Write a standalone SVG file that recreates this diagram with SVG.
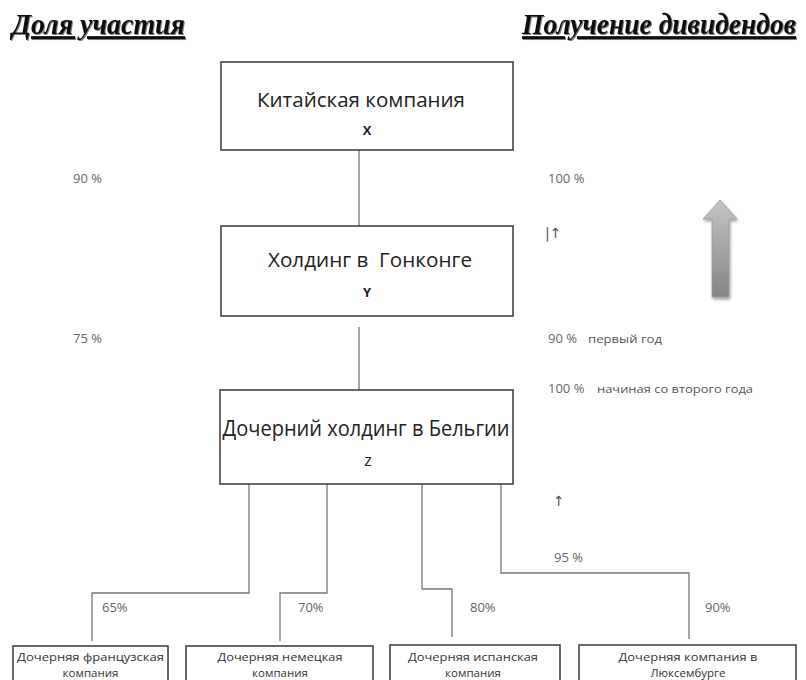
<svg xmlns="http://www.w3.org/2000/svg" width="806" height="680" viewBox="0 0 806 680">
<defs>
<linearGradient id="ag" x1="0" y1="0" x2="0" y2="1">
<stop offset="0" stop-color="#c4c4c4"/>
<stop offset="1" stop-color="#858585"/>
</linearGradient>
<filter id="sh" x="-50%" y="-20%" width="200%" height="140%">
<feGaussianBlur in="SourceAlpha" stdDeviation="1.5"/>
<feOffset dx="1" dy="2" result="b"/>
<feComponentTransfer><feFuncA type="linear" slope="0.4"/></feComponentTransfer>
<feMerge><feMergeNode/><feMergeNode in="SourceGraphic"/></feMerge>
</filter>
<filter id="ts" x="-2%" y="-20%" width="104%" height="140%">
<feOffset in="SourceAlpha" dx="1" dy="1" result="o"/>
<feComponentTransfer in="o"><feFuncA type="linear" slope="0.5"/></feComponentTransfer>
<feMerge><feMergeNode/><feMergeNode in="SourceGraphic"/></feMerge>
</filter>
</defs>
<style>
.box{fill:#fff;stroke:#444;stroke-width:1.6}
.conn{fill:none;stroke:#777;stroke-width:1.3}
.bt{font-family:"Open Sans","Liberation Sans",sans-serif;fill:#222;text-anchor:middle}
.lbl{font-family:"Open Sans","Liberation Sans",sans-serif;fill:#666;font-size:13px}
.sm{font-family:"Open Sans","Liberation Sans",sans-serif;fill:#555;font-size:11.5px}
.arr{font-family:"DejaVu Sans",sans-serif;fill:#555;font-size:14px}
.hd{font-family:"Liberation Serif",serif;font-weight:bold;font-style:italic;font-size:25px;fill:#111;text-decoration:underline}
.st{font-family:"Open Sans","Liberation Sans",sans-serif;fill:#333;text-anchor:middle;font-size:11.5px}
</style>
<rect width="806" height="680" fill="#fff"/>

<g id="header-left" filter="url(#ts)">
<text class="hd" transform="translate(12,34) scale(1,1.16)" x="0" y="0" textLength="173" lengthAdjust="spacingAndGlyphs">Доля участия</text>
</g>
<g id="header-right" filter="url(#ts)">
<text class="hd" transform="translate(522,34) scale(1,1.16)" x="0" y="0" textLength="274" lengthAdjust="spacingAndGlyphs">Получение дивидендов</text>
</g>

<g id="connectors">
<line class="conn" x1="359" y1="150" x2="359" y2="226"/>
<line class="conn" x1="359" y1="327" x2="359" y2="390"/>
<polyline class="conn" points="249,484 249,593 92,593 92,641"/>
<polyline class="conn" points="327,484 327,593 280,593 280,641"/>
<polyline class="conn" points="422,484 422,589 452,589 452,637"/>
<polyline class="conn" points="501,484 501,573 689,573 689,639"/>
</g>

<g id="node-x">
<rect class="box" x="221" y="62" width="292" height="88"/>
<text class="bt" x="361" y="107" font-size="20" textLength="208" lengthAdjust="spacingAndGlyphs">Китайская компания</text>
<text class="bt" x="367" y="135" font-size="13" font-weight="bold">X</text>
</g>

<g id="node-y">
<rect class="box" x="221" y="226" width="292" height="90"/>
<text class="bt" x="370" y="267" font-size="20" textLength="204" lengthAdjust="spacingAndGlyphs" xml:space="preserve">Холдинг в  Гонконге</text>
<text class="bt" x="367" y="297" font-size="13" font-weight="bold">Y</text>
</g>

<g id="node-z">
<rect class="box" x="220" y="390" width="293" height="94"/>
<text class="bt" x="366" y="436" font-size="22" textLength="287" lengthAdjust="spacingAndGlyphs">Дочерний холдинг в Бельгии</text>
<text class="bt" x="368" y="466" font-size="16">z</text>
</g>

<g id="node-fr">
<rect class="box" x="13" y="646" width="155" height="50"/>
<text class="st" x="90.5" y="661" textLength="147" lengthAdjust="spacingAndGlyphs">Дочерняя французская</text>
<text class="st" x="90.5" y="677">компания</text>
</g>
<g id="node-de">
<rect class="box" x="186" y="646" width="187" height="50"/>
<text class="st" x="280" y="661" textLength="125" lengthAdjust="spacingAndGlyphs">Дочерняя немецкая</text>
<text class="st" x="280" y="677">компания</text>
</g>
<g id="node-es">
<rect class="box" x="390" y="645" width="170" height="50"/>
<text class="st" x="473" y="661" textLength="130" lengthAdjust="spacingAndGlyphs">Дочерняя испанская</text>
<text class="st" x="473" y="677">компания</text>
</g>
<g id="node-lu">
<rect class="box" x="579" y="645" width="217" height="50"/>
<text class="st" x="688" y="661" textLength="139" lengthAdjust="spacingAndGlyphs">Дочерняя компания в</text>
<text class="st" x="688" y="677">Люксембурге</text>
</g>

<g id="labels">
<text class="lbl" x="73" y="183">90 %</text>
<text class="lbl" x="73" y="343">75 %</text>
<text class="lbl" x="548" y="183">100 %</text>
<text class="arr" x="545" y="238">|↑</text>
<text class="lbl" x="548" y="343">90 % <tspan class="sm" x="588" textLength="74" lengthAdjust="spacingAndGlyphs">первый год</tspan></text>
<text class="lbl" x="548" y="393">100 % <tspan class="sm" x="597" textLength="156" lengthAdjust="spacingAndGlyphs">начиная со второго года</tspan></text>
<text class="arr" x="553" y="506">↑</text>
<text class="lbl" x="554" y="562">95 %</text>
<text class="lbl" x="102" y="612">65%</text>
<text class="lbl" x="298" y="612">70%</text>
<text class="lbl" x="470" y="612">80%</text>
<text class="lbl" x="705" y="612">90%</text>
</g>

<g id="dividend-arrow" filter="url(#sh)">
<path d="M720,200 L737,219 L729,219 L729,297 L712,297 L712,219 L703,219 Z" fill="url(#ag)" stroke="#999" stroke-width="0.8"/>
</g>
</svg>
